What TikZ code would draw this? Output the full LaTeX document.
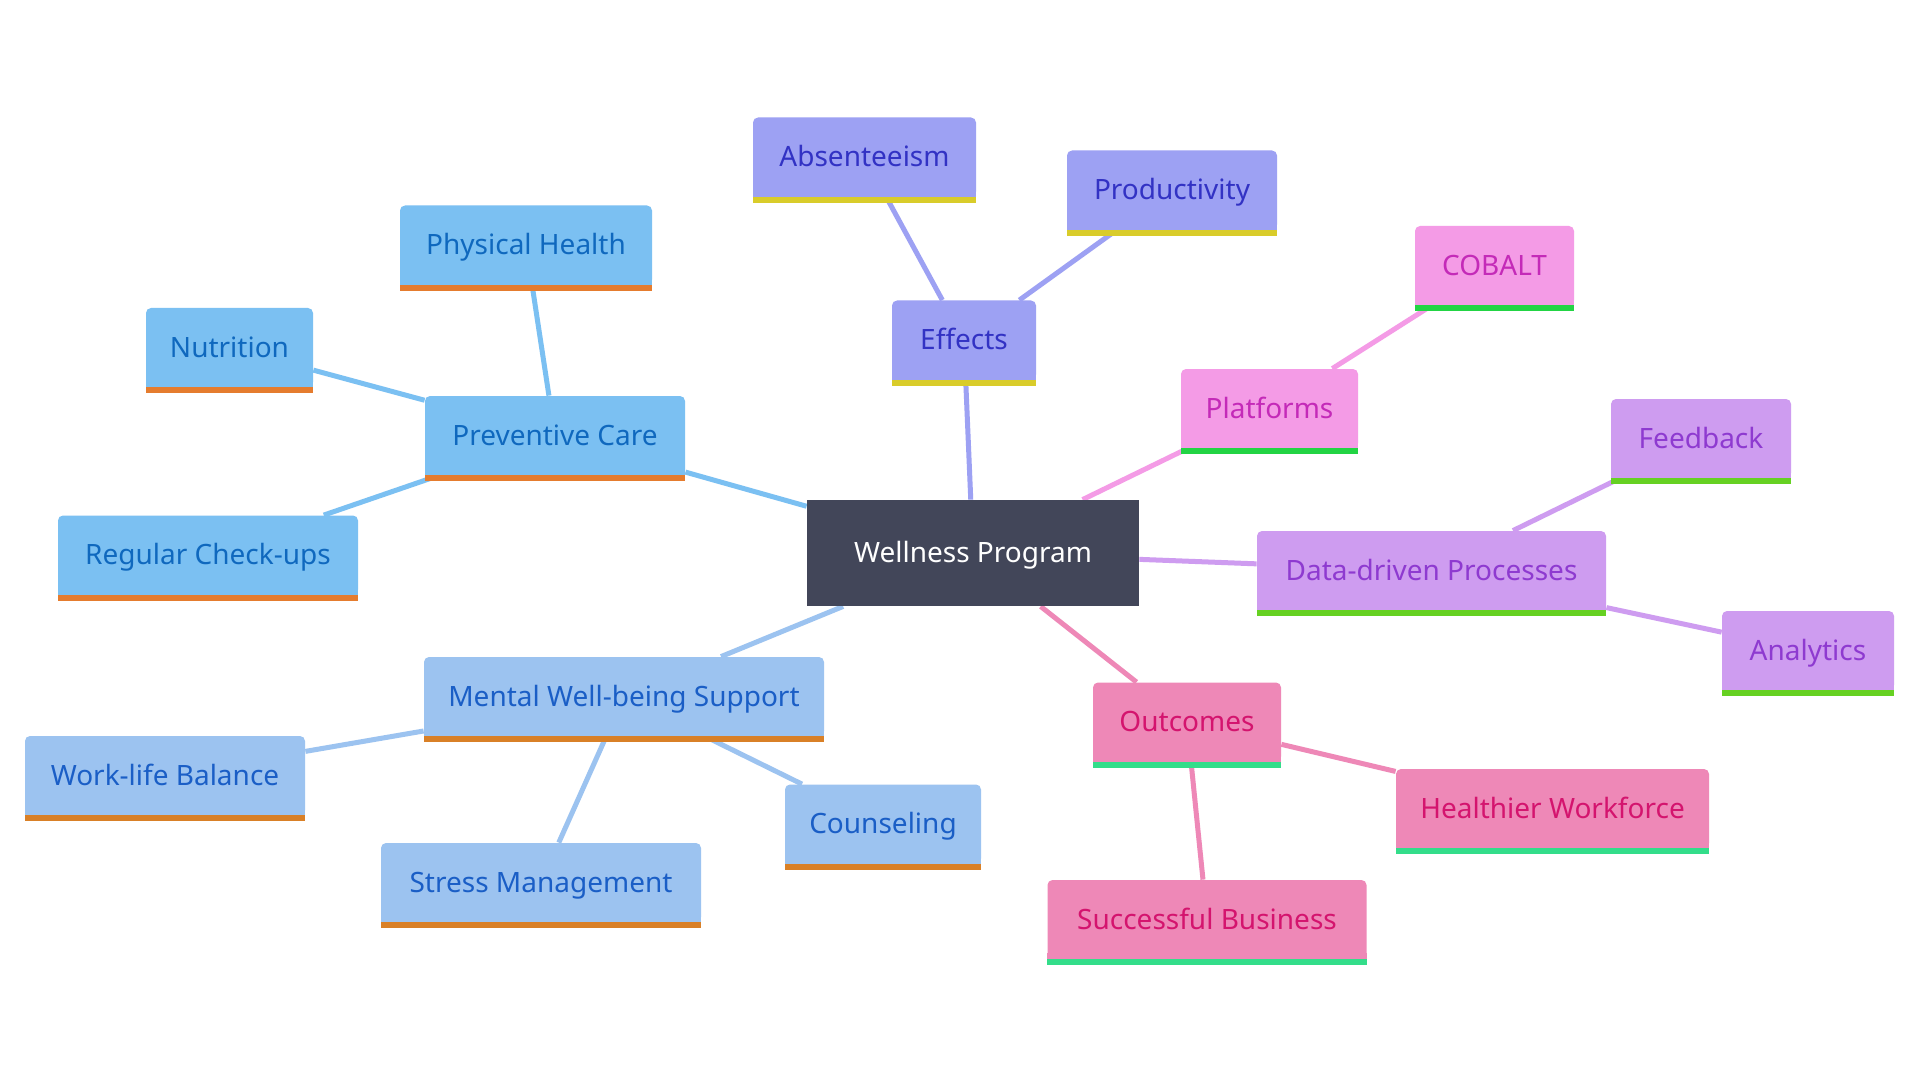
\documentclass[tikz,border=0pt]{standalone}
\usepackage{fontspec}
\setmainfont{Noto Sans}
\usetikzlibrary{backgrounds}
\definecolor{pcfill}{HTML}{7BC0F2}
\definecolor{pctext}{HTML}{0F68BE}
\definecolor{pcbar}{HTML}{E57C2E}
\definecolor{mwfill}{HTML}{9CC3F0}
\definecolor{mwtext}{HTML}{1A5EC6}
\definecolor{mwbar}{HTML}{D98027}
\definecolor{effill}{HTML}{9DA1F3}
\definecolor{eftext}{HTML}{3232C4}
\definecolor{efbar}{HTML}{D9CC2A}
\definecolor{plfill}{HTML}{F49BE6}
\definecolor{pltext}{HTML}{C42AB8}
\definecolor{plbar}{HTML}{22D444}
\definecolor{ddfill}{HTML}{CE9CF0}
\definecolor{ddtext}{HTML}{8E3AD0}
\definecolor{ddbar}{HTML}{66D122}
\definecolor{ocfill}{HTML}{EE88B7}
\definecolor{octext}{HTML}{D4146E}
\definecolor{ocbar}{HTML}{33DD8A}
\definecolor{wpfill}{HTML}{424659}
\tikzset{
  box/.style={rounded corners=2.5pt, inner sep=0pt, minimum height=39.5pt,
    text height=9.9pt, text depth=0pt,
    font=\fontsize{14}{16}\selectfont, anchor=center},
  pcbox/.style={box, fill=pcfill, text=pctext},
  mwbox/.style={box, fill=mwfill, text=mwtext},
  efbox/.style={box, fill=effill, text=eftext},
  plbox/.style={box, fill=plfill, text=pltext},
  ddbox/.style={box, fill=ddfill, text=ddtext},
  ocbox/.style={box, fill=ocfill, text=octext},
  centerbox/.style={fill=wpfill, text=white, inner sep=0pt, minimum width=166pt,
    minimum height=53pt, text height=9.9pt, text depth=0pt,
    font=\fontsize{14}{16}\selectfont},
  link/.style={line width=2.5pt},
}
\begin{document}
\begin{tikzpicture}[x=0.5pt,y=-0.5pt]
\useasboundingbox (0,0) rectangle (1920,1080);
% center
\node[centerbox] (wp) at (973,553) {Wellness Program};
% preventive care branch
\node[pcbox, minimum width=130pt] (pc) at (555,435.5) {Preventive Care};
\node[pcbox, minimum width=126pt] (ph) at (526,245) {Physical Health};
\node[pcbox, minimum width=83.5pt] (nu) at (229.5,347.5) {Nutrition};
\node[pcbox, minimum width=150pt] (rc) at (208,555) {Regular Check-ups};
% effects branch
\node[efbox, minimum width=72pt] (ef) at (964,340) {Effects};
\node[efbox, minimum width=111.5pt] (ab) at (864.5,157) {Absenteeism};
\node[efbox, minimum width=105pt] (pr) at (1172,190) {Productivity};
% platforms branch
\node[plbox, minimum width=88.5pt] (pl) at (1269.5,408.5) {Platforms};
\node[plbox, minimum width=79.5pt] (co) at (1494.5,265.5) {COBALT};
% data-driven branch
\node[ddbox, minimum width=174.5pt] (dd) at (1431.5,570.5) {Data-driven Processes};
\node[ddbox, minimum width=90pt] (fb) at (1701,438.5) {Feedback};
\node[ddbox, minimum width=86pt] (an) at (1808,650.5) {Analytics};
% outcomes branch
\node[ocbox, minimum width=94pt] (oc) at (1187,722) {Outcomes};
\node[ocbox, minimum width=156.5pt] (hw) at (1552.5,808.5) {Healthier Workforce};
\node[ocbox, minimum width=159.5pt] (sb) at (1207,919.5) {Successful Business};
% mental branch
\node[mwbox, minimum width=200pt] (mw) at (624,696.5) {Mental Well-being Support};
\node[mwbox, minimum width=140pt] (wl) at (165,775.5) {Work-life Balance};
\node[mwbox, minimum width=160pt] (sm) at (541,882.5) {Stress Management};
\node[mwbox, minimum width=98pt] (cn) at (883,824) {Counseling};
% bottom bars
\foreach \n/\f/\b in {pc/pcfill/pcbar, ph/pcfill/pcbar, nu/pcfill/pcbar, rc/pcfill/pcbar,
  ef/effill/efbar, ab/effill/efbar, pr/effill/efbar,
  pl/plfill/plbar, co/plfill/plbar,
  dd/ddfill/ddbar, fb/ddfill/ddbar, an/ddfill/ddbar,
  oc/ocfill/ocbar, hw/ocfill/ocbar, sb/ocfill/ocbar,
  mw/mwfill/mwbar, wl/mwfill/mwbar, sm/mwfill/mwbar, cn/mwfill/mwbar} {
  \fill[\f] (\n.south west) rectangle ([yshift=3pt]\n.south east);
  \fill[\b] (\n.south west) rectangle ([yshift=-3pt]\n.south east);
}
% connectors
\begin{scope}[on background layer]
\fill[white] (0,0) rectangle (1920,1080);
\draw[link, pcfill] (wp) -- (pc);
\draw[link, pcfill] (pc) -- (ph);
\draw[link, pcfill] (pc) -- (nu);
\draw[link, pcfill] (pc) -- (rc);
\draw[link, effill] (wp) -- (ef);
\draw[link, effill] (ef) -- (ab);
\draw[link, effill] (ef) -- (pr);
\draw[link, plfill] (wp) -- (pl);
\draw[link, plfill] (pl) -- (co);
\draw[link, ddfill] (wp) -- (dd);
\draw[link, ddfill] (dd) -- (fb);
\draw[link, ddfill] (dd) -- (an);
\draw[link, ocfill] (wp) -- (oc);
\draw[link, ocfill] (oc) -- (hw);
\draw[link, ocfill] (oc) -- (sb);
\draw[link, mwfill] (wp) -- (mw);
\draw[link, mwfill] (mw) -- (wl);
\draw[link, mwfill] (mw) -- (sm);
\draw[link, mwfill] (mw) -- (cn);
\end{scope}
\end{tikzpicture}
\end{document}
